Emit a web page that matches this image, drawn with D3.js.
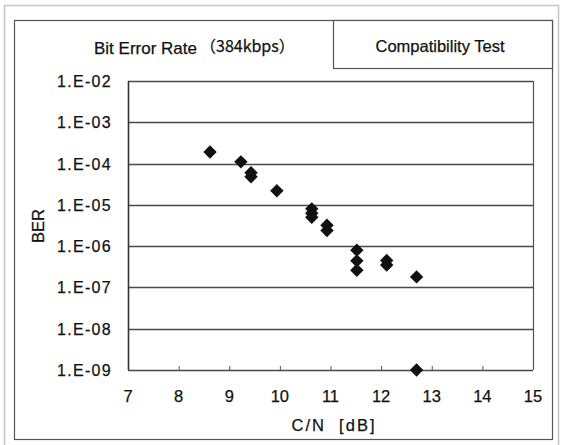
<!DOCTYPE html>
<html>
<head>
<meta charset="utf-8">
<script src="https://cdn.jsdelivr.net/npm/d3@7"></script>
<style>
  body { margin: 0; background: #fff; }
  text { fill: #111; stroke: #111; stroke-width: 0.25px; }
</style>
</head>
<body>
<div id="chart"></div>
<script>
var cnValues = [8.62, 9.23, 9.43, 9.43, 9.94, 10.63, 10.63, 10.63, 10.93, 10.93,
                11.52, 11.52, 11.52, 12.11, 12.11, 12.70, 12.70];
var berValues = [1.9e-4, 1.1e-4, 6.0e-5, 4.8e-5, 2.2e-5, 8.0e-6, 6.3e-6, 5.0e-6, 3.2e-6, 2.4e-6,
                 8.0e-7, 4.4e-7, 2.6e-7, 4.5e-7, 3.5e-7, 1.8e-7, 1.0e-9];

var xTicks = [7, 8, 9, 10, 11, 12, 13, 14, 15];
var yTicks = [1e-2, 1e-3, 1e-4, 1e-5, 1e-6, 1e-7, 1e-8, 1e-9];
var yTickLabels = ["1.E-02", "1.E-03", "1.E-04", "1.E-05", "1.E-06", "1.E-07", "1.E-08", "1.E-09"];

var titleText = "Bit Error Rate";
var subtitleText = "\uff08384kbps\uff09";
var boxText = "Compatibility Test";
var xLabel = "C/N  [dB]";
var yLabel = "BER";

var w = 562, h = 445;
var margin = {top: 81, right: 29, bottom: 75, left: 128};

var svg = d3.select("#chart").append("svg")
    .attr("width", w)
    .attr("height", h);

// Outer light scan border and the dark frame of the figure.
svg.append("rect")
    .attr("x", 4.5).attr("y", 5.5)
    .attr("width", 554).attr("height", 445)
    .attr("fill", "none").attr("stroke", "#c4c4c4").attr("stroke-width", 1.5);
svg.append("rect")
    .attr("x", 14.5).attr("y", 20.5)
    .attr("width", 538).attr("height", 419)
    .attr("fill", "none").attr("stroke", "#555").attr("stroke-width", 1.2);

// Compatibility box in the top right.
svg.append("rect")
    .attr("x", 333.5).attr("y", 20.5)
    .attr("width", 219).attr("height", 48)
    .attr("fill", "#fff").attr("stroke", "#555").attr("stroke-width", 1.2);
svg.append("text")
    .attr("x", 440).attr("y", 52)
    .attr("text-anchor", "middle")
    .style("font-family", "Liberation Sans, Arial, sans-serif")
    .style("font-size", "16.5px")
    .text(boxText);

// Title.
svg.append("text")
    .attr("x", 94).attr("y", 54)
    .style("font-family", "Liberation Sans, Arial, sans-serif")
    .style("font-size", "17px")
    .text(titleText);
svg.append("text")
    .attr("x", 200).attr("y", 52)
    .style("font-family", "Noto Sans CJK JP, sans-serif")
    .style("font-size", "16px")
    .text(subtitleText);

var x = d3.scaleLinear()
    .domain([7, 15])
    .range([margin.left, w - margin.right]);
var y = d3.scaleLog()
    .domain([1e-9, 1e-2])
    .range([h - margin.bottom, margin.top]);

var g = svg.append("g");

// Horizontal grid lines, one per decade.
g.selectAll("line.grid").data(yTicks)
  .enter().append("line")
    .attr("class", "grid")
    .attr("x1", x(7)).attr("x2", x(15))
    .attr("y1", function(d) { return Math.round(y(d)) + 0.5; })
    .attr("y2", function(d) { return Math.round(y(d)) + 0.5; })
    .attr("stroke", "#4a4a4a").attr("stroke-width", 1.4);

// Left axis line and right border of the plot.
g.append("line")
    .attr("x1", x(7) + 0.5).attr("x2", x(7) + 0.5)
    .attr("y1", y(1e-2)).attr("y2", y(1e-9))
    .attr("stroke", "#333").attr("stroke-width", 1.6);
g.append("line")
    .attr("x1", x(15) + 0.5).attr("x2", x(15) + 0.5)
    .attr("y1", y(1e-2)).attr("y2", y(1e-9))
    .attr("stroke", "#555").attr("stroke-width", 1.2);

// Small inner ticks on the bottom axis.
g.selectAll("line.xtick").data(xTicks.slice(1, -1))
  .enter().append("line")
    .attr("class", "xtick")
    .attr("x1", function(d) { return x(d) + 0.5; })
    .attr("x2", function(d) { return x(d) + 0.5; })
    .attr("y1", y(1e-9)).attr("y2", y(1e-9) - 4)
    .attr("stroke", "#555").attr("stroke-width", 1);

// Tick labels.
g.selectAll("text.ylab").data(yTicks)
  .enter().append("text")
    .attr("class", "ylab")
    .attr("x", 112)
    .attr("y", function(d) { return y(d) + 6; })
    .attr("text-anchor", "end")
    .style("font-family", "Liberation Sans, Arial, sans-serif")
    .style("font-size", "16px")
    .style("letter-spacing", "1.3px")
    .text(function(d, i) { return yTickLabels[i]; });

g.selectAll("text.xlab").data(xTicks)
  .enter().append("text")
    .attr("class", "xlab")
    .attr("x", function(d) { return x(d); })
    .attr("y", 402)
    .attr("text-anchor", "middle")
    .style("font-family", "Liberation Sans, Arial, sans-serif")
    .style("font-size", "16.5px")
    .text(function(d) { return d; });

// Axis titles.
svg.append("text")
    .attr("x", 334).attr("y", 431)
    .attr("text-anchor", "middle")
    .style("font-family", "Liberation Sans, Arial, sans-serif")
    .style("font-size", "16.5px")
    .style("letter-spacing", "2px")
    .style("white-space", "pre")
    .text(xLabel);
svg.append("text")
    .attr("transform", "translate(44,226) rotate(-90)")
    .attr("text-anchor", "middle")
    .style("font-family", "Liberation Sans, Arial, sans-serif")
    .style("font-size", "16.5px")
    .text(yLabel);

// Diamond markers.
var diamond = d3.symbol().type(d3.symbolSquare).size(90);
g.selectAll("path.pt").data(cnValues)
  .enter().append("path")
    .attr("class", "pt")
    .attr("d", diamond)
    .attr("transform", function(d, i) {
        return "translate(" + x(d) + "," + y(berValues[i]) + ") rotate(45)";
    })
    .attr("fill", "#111");
</script>
</body>
</html>
